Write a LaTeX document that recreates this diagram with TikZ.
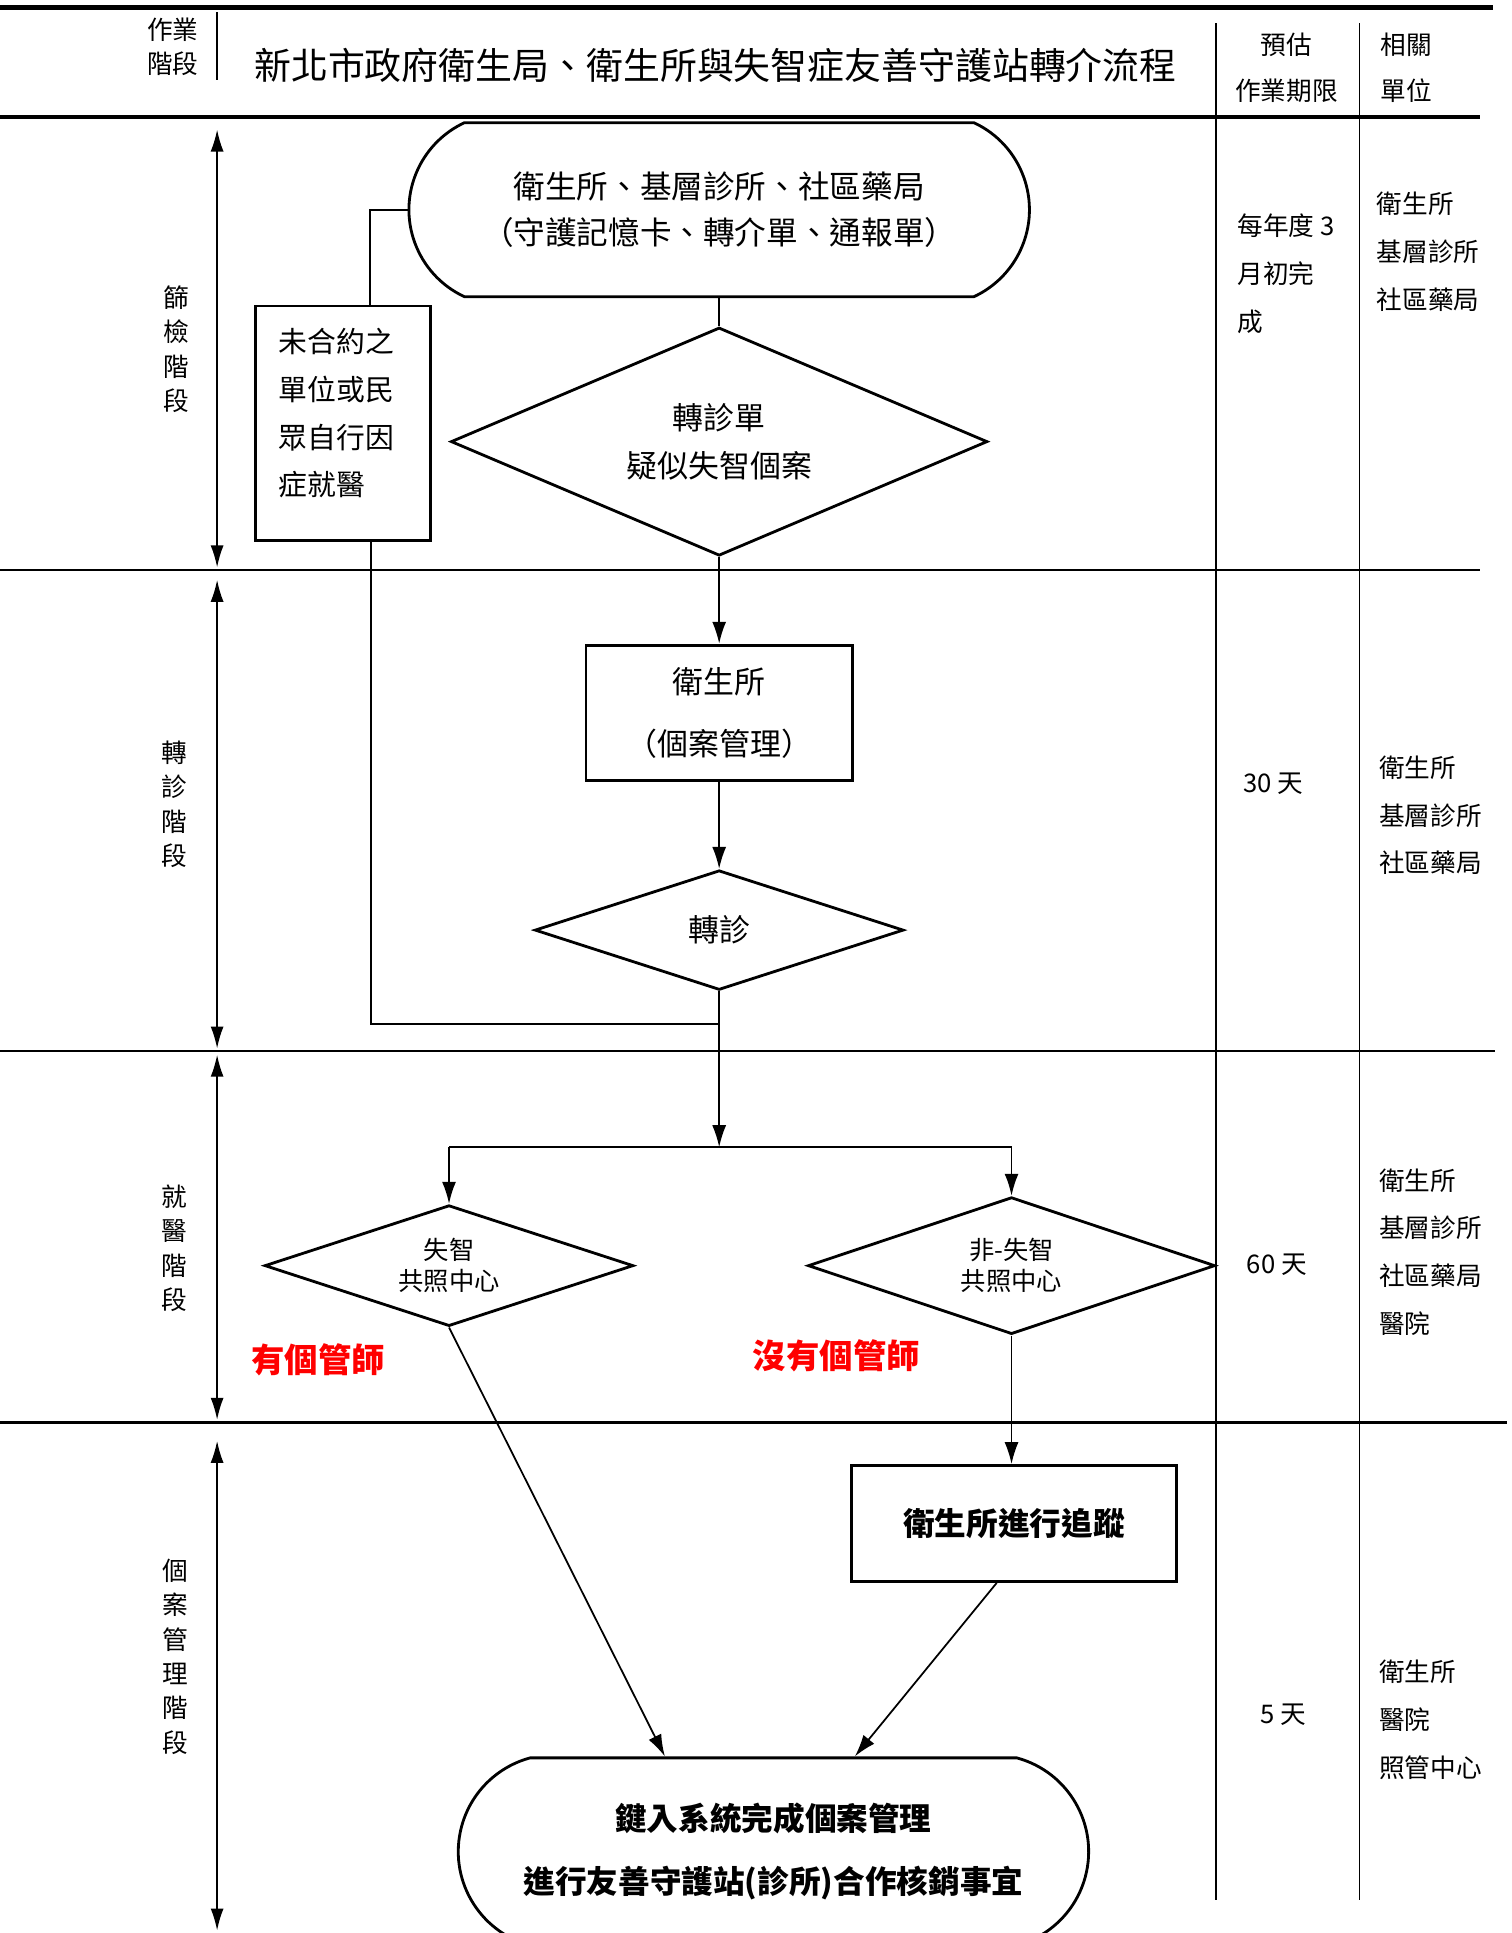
\documentclass[tikz,border=0pt]{standalone}
\usepackage{fontspec}
\setmainfont{Noto Sans CJK TC}
\usetikzlibrary{arrows.meta,shapes.geometric,shapes.misc}

\tikzset{
  hdline/.style={line width=1.2pt},
  colline/.style={line width=0.5pt},
  divider/.style={line width=0.7pt},
  stagebar/.style={line width=0.5pt, {Latex[length=2.2mm,width=1.3mm]}-{Latex[length=2.2mm,width=1.3mm]}},
  stagetxt/.style={align=center, font=\fontsize{7.3}{9.8}\selectfont},
  coltxt/.style={align=left, anchor=west, font=\fontsize{7.3}{13.6}\selectfont},
  termbox/.style={draw, line width=0.8pt, rounded rectangle, inner sep=0pt, align=center},
  procbox/.style={draw, line width=0.8pt, rectangle, inner sep=0pt, align=center},
  decision/.style={draw, line width=0.8pt, diamond, inner sep=0pt, align=center},
  conn/.style={line width=0.5pt},
  arrconn/.style={conn, -{Latex[length=2.2mm,width=1.4mm]}},
  redtxt/.style={text=red, font=\fontsize{9.5}{12}\selectfont\bfseries},
}

\begin{document}
\begin{tikzpicture}[x=0.1234mm, y=-0.1234mm]
\def\px{0.1234mm} % one unit of the grid below
\useasboundingbox (0,0) rectangle (1225,1567);

% header
\draw[hdline] (0,6) -- (1210,6);
\draw[hdline] (0,95) -- (1200,95);
\draw[colline] (176,10) -- (176,65);
\draw[colline] (986,19) -- (986,1540);
\draw[colline] (1102,19) -- (1102,1540);
\node[stagetxt] (hdstage) at (140,38) {作業\\階段};
\node[font=\fontsize{10.5}{12}\selectfont] (title) at (580,53) {新北市政府衛生局、衛生所與失智症友善守護站轉介流程};
\node[align=center, font=\fontsize{7.3}{13.3}\selectfont] (hdtime) at (1043,55) {預估\\作業期限};
\node[coltxt, font=\fontsize{7.3}{13.3}\selectfont] (hdunit) at (1109,55) {相關\\單位};

% stage rows
\draw[divider] (0,462) -- (1200,462);
\draw[divider] (0,852) -- (1212,852);
\draw[divider] (0,1153) -- (1222,1153);
\draw[stagebar] (176,105) -- (176,460);
\draw[stagebar] (176,470) -- (176,850);
\draw[stagebar] (176,855) -- (176,1151);
\draw[stagebar] (176,1168) -- (176,1565);
\node[stagetxt] (lblscreen) at (143,283) {篩\\檢\\階\\段};
\node[stagetxt] (lblrefer) at (141,652) {轉\\診\\階\\段};
\node[stagetxt] (lblvisit) at (141,1012) {就\\醫\\階\\段};
\node[stagetxt] (lblcase) at (142,1343) {個\\案\\管\\理\\階\\段};

% time limit and units
\node[coltxt] (time1) at (993,222) {每年度 3\\月初完\\成};
\node[coltxt] (unit1) at (1106,204) {衛生所\\基層診所\\社區藥局};
\node[font=\fontsize{7.3}{9}\selectfont] (time2) at (1032,635) {30 天};
\node[coltxt] (unit2) at (1108,661) {衛生所\\基層診所\\社區藥局};
\node[font=\fontsize{7.3}{9}\selectfont] (time3) at (1035,1025) {60 天};
\node[coltxt] (unit3) at (1108,1015) {衛生所\\基層診所\\社區藥局\\醫院};
\node[font=\fontsize{7.3}{9}\selectfont] (time4) at (1040,1390) {5 天};
\node[coltxt] (unit4) at (1108,1394) {衛生所\\醫院\\照管中心};

% flow
\node[termbox, rounded rectangle arc length=130, minimum width=503*\px, minimum height=141*\px,
  font=\fontsize{9}{13.2}\selectfont] (start) at (583,170) {衛生所、基層診所、社區藥局\\（守護記憶卡、轉介單、通報單）};
\node[decision, aspect=2.35, minimum width=435*\px, minimum height=185*\px,
  font=\fontsize{8.8}{13.6}\selectfont] (suspect) at (583,358) {轉診單\\疑似失智個案};
\node[procbox, minimum width=142*\px, minimum height=190*\px] (self) at (278,343) {};
\node[coltxt, font=\fontsize{8.2}{13.6}\selectfont] (selftxt) at (216,335) {未合約之\\單位或民\\眾自行因\\症就醫};
\node[procbox, minimum width=216*\px, minimum height=110*\px,
  font=\fontsize{8.8}{17.7}\selectfont] (hcase) at (583,578) {衛生所\\（個案管理）};
\node[decision, aspect=3.08, minimum width=299*\px, minimum height=97*\px,
  font=\fontsize{8.8}{12}\selectfont] (refer) at (583,754) {轉診};
\node[decision, aspect=3.05, minimum width=299*\px, minimum height=98*\px,
  font=\fontsize{7.2}{8.7}\selectfont] (dccc) at (364,1026) {失智\\共照中心};
\node[decision, aspect=2.97, minimum width=330*\px, minimum height=111*\px,
  font=\fontsize{7.2}{8.7}\selectfont] (nondccc) at (820,1026) {非-失智\\共照中心};
\node[procbox, minimum width=263*\px, minimum height=94*\px,
  font=\fontsize{9}{12}\selectfont\bfseries] (track) at (822,1235) {衛生所進行追蹤};
\node[termbox, rounded rectangle arc length=150, minimum width=511*\px, minimum height=152*\px,
  font=\fontsize{9}{18}\selectfont\bfseries] (finish) at (627,1501) {鍵入系統完成個案管理\\進行友善守護站(診所)合作核銷事宜};
\node[redtxt] (withcm) at (258,1102) {有個管師};
\node[redtxt] (nocm) at (678,1099) {沒有個管師};

\coordinate (join) at (583,830);
\coordinate (split) at (583,930);

\draw[conn] (start.south) -- (suspect.north);
\draw[conn] ([xshift=22*\px]self.north) |- (start.west);
\draw[conn] ([xshift=23*\px]self.south) |- (join);
\draw[arrconn] (suspect.south) -- (hcase.north);
\draw[arrconn] (hcase.south) -- (refer.north);
\draw[conn] (refer.south) -- (join);
\draw[arrconn] (join) -- (split);
\draw[conn] (dccc.north |- split) -- (nondccc.north |- split);
\draw[arrconn] (dccc.north |- split) -- (dccc.north);
\draw[arrconn] (nondccc.north |- split) -- (nondccc.north);
\draw[arrconn] (nondccc.south) -- (nondccc.south |- track.north);
\draw[arrconn] (dccc.south) -- ([xshift=-88*\px]finish.north);
\draw[arrconn] ([xshift=-14*\px]track.south) -- ([xshift=66*\px]finish.north);
\end{tikzpicture}
\end{document}
